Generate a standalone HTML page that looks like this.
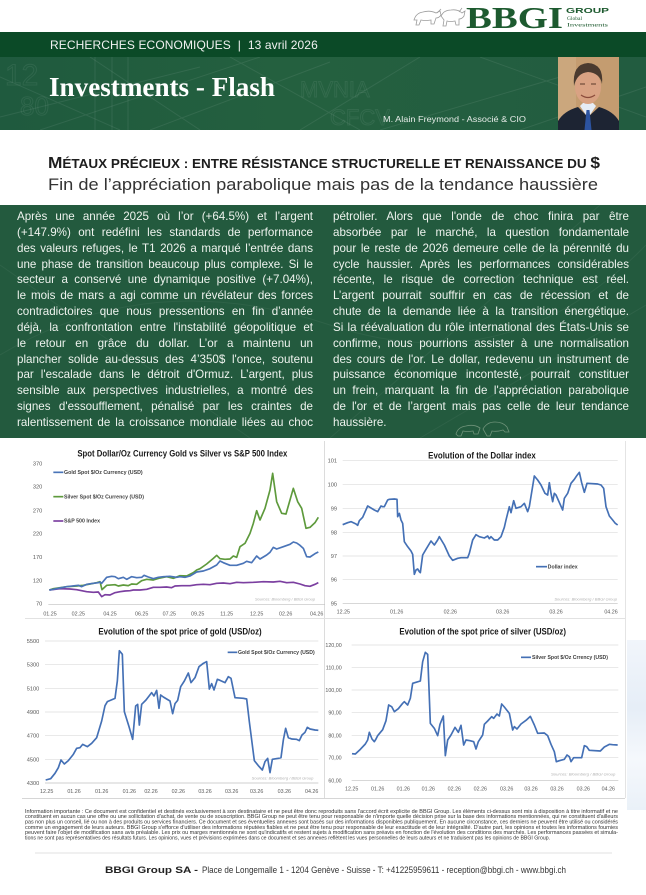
<!DOCTYPE html>
<html><head><meta charset="utf-8">
<style>
html,body{margin:0;padding:0;}
body{width:646px;height:895px;position:relative;overflow:hidden;background:#fff;font-family:"Liberation Sans",Arial,sans-serif;}
.abs{position:absolute;}
.col{position:absolute;top:209px;width:296px;font-size:11.6px;line-height:15.85px;color:#eef3ee;font-family:"Liberation Sans",Arial,sans-serif;}
.col div{height:15.85px;text-align:justify;text-align-last:justify;overflow:hidden;}
.col div.l{text-align-last:left;}
svg text{font-family:"Liberation Sans",Arial,sans-serif;}
</style></head><body>

<!-- Logo -->
<svg class="abs" style="left:0;top:0" width="646" height="32" viewBox="0 0 646 32">
  <g fill="none" stroke="#9c9c9c" stroke-width="0.8">
    <path d="M414,20 Q416,13 423,12 Q430,10 436,13 L440,11 L441,15 Q439,18 436,18 L434,24 L431,24 L431,20 Q425,21 421,20 L419,25 L416,25 L417,20 Z"/>
    <path d="M441,16 Q444,10 451,10 Q458,9 462,13 L465,11 L464,16 Q462,19 459,19 L459,25 L456,25 L455,21 Q450,22 447,21 L446,26 L443,26 L444,20 Z"/>
    <path d="M437,13 L441,9 M459,12 L462,8"/>
  </g>
  <text x="466" y="28" font-weight="bold" font-size="31" fill="#1d5a2f" textLength="97" lengthAdjust="spacingAndGlyphs" style="font-family:'Liberation Serif',serif">BBGI</text>
  <text x="566" y="13" font-weight="bold" font-size="7.5" fill="#1d5a2f" textLength="43" lengthAdjust="spacingAndGlyphs">GROUP</text>
  <text x="567" y="20" font-size="5.5" fill="#1d5a2f" style="font-family:'Liberation Serif',serif">Global</text>
  <text x="567" y="26.5" font-size="5.5" fill="#1d5a2f" textLength="41" lengthAdjust="spacingAndGlyphs" style="font-family:'Liberation Serif',serif">Investments</text>
</svg>

<!-- Header band -->
<div class="abs" style="left:0;top:32px;width:646px;height:25px;background:#0b4a27;"></div>
<div class="abs" style="left:0;top:57px;width:646px;height:73px;background:linear-gradient(90deg,#1f5a3e 0%,#24603f 45%,#225c40 100%);"></div>
<svg class="abs" style="left:0;top:57px" width="646" height="73" viewBox="0 0 646 73">
  <g stroke="#ffffff" stroke-opacity="0.08" stroke-width="1" fill="none">
    <path d="M0,60 L200,10 M40,73 L260,0 M150,73 L330,5 M300,73 L420,0 M380,73 L560,20 M0,20 L120,73 M90,0 L200,73 M230,0 L360,73 M480,0 L646,60 M520,73 L646,30"/>
    <path d="M95,0 L95,73 M112,0 L112,73 M128,0 L128,73"/>
  </g>
  <g fill="none" stroke="#ffffff" stroke-opacity="0.07" stroke-width="1" font-size="30" style="font-family:'Liberation Serif',serif">
    <text x="5" y="28">12</text><text x="20" y="58" font-size="26">80</text>
    <text x="300" y="40" font-size="22">MVNIA</text><text x="330" y="68" font-size="22">CFCV</text>
  </g>
</svg>
<div class="abs" style="left:50px;top:38px;font-size:12px;color:#f2f2f2;letter-spacing:0.1px;white-space:nowrap;">RECHERCHES ECONOMIQUES &nbsp;|&nbsp; 13 avril 2026</div>
<svg class="abs" style="left:0;top:57px" width="560" height="73" viewBox="0 0 560 73">
  <text x="49" y="39" font-weight="bold" font-size="27" fill="#ffffff" textLength="226" lengthAdjust="spacingAndGlyphs" style="font-family:'Liberation Serif',serif">Investments - Flash</text>
  <text x="383" y="65" font-size="8.3" fill="#e6ece8" textLength="143" lengthAdjust="spacingAndGlyphs">M. Alain Freymond - Associé &amp; CIO</text>
</svg>
<!-- Photo -->
<svg class="abs" style="left:558px;top:57px" width="61" height="73" viewBox="0 0 61 73">
  <rect width="61" height="73" fill="#c49c70"/>
  <rect width="18" height="73" fill="#d2b28a" opacity="0.5"/>
  <rect x="25" y="40" width="10" height="12" fill="#c48a6a"/>
  <path d="M0,73 L0,64 Q6,54 20,50 L30,60 L41,50 Q55,54 61,64 L61,73 Z" fill="#1d2433"/>
  <path d="M22,49 L30,61 L38,49 L35,46 L25,46 Z" fill="#e6edf6"/>
  <path d="M28.5,53 L31.5,53 L33.5,73 L26.5,73 Z" fill="#2c53a0"/>
  <ellipse cx="30" cy="30" rx="13" ry="17" fill="#d9a283"/>
  <path d="M16,29 Q14,7 30,6 Q46,7 44,27 Q42,16 30,15 Q19,16 16,29 Z" fill="#4a3a2f"/>
  <path d="M23,38 Q30,43 37,38" stroke="#8b4b3b" stroke-width="1.2" fill="none"/>
  <path d="M22,27 L27,27 M33,27 L38,27" stroke="#5a3a2a" stroke-width="1"/>
</svg>

<!-- Title -->
<svg class="abs" style="left:0;top:140px" width="646" height="65" viewBox="0 140 646 65">
  <text x="48" y="168" font-weight="bold" fill="#1e1e1e" textLength="552" lengthAdjust="spacingAndGlyphs"><tspan font-size="16">M</tspan><tspan font-size="12.5">ÉTAUX PRÉCIEUX : ENTRE RÉSISTANCE STRUCTURELLE ET RENAISSANCE DU </tspan><tspan font-size="16">$</tspan></text>
  <text x="48" y="190" font-size="17" fill="#333333" textLength="550" lengthAdjust="spacingAndGlyphs">Fin de l’appréciation parabolique mais pas de la tendance haussière</text>
</svg>

<!-- Text block -->
<div class="abs" style="left:0;top:205px;width:646px;height:233px;background:#235a3e;"></div>
<svg class="abs" style="left:0;top:205px" width="646" height="233" viewBox="0 0 646 233">
  <g stroke="#ffffff" stroke-opacity="0.05" fill="none" stroke-width="1">
    <path d="M0,150 Q150,60 330,120 T646,40 M0,60 L250,233 M330,233 L600,0 M420,233 L646,100"/>
  </g>
  <g fill="none" stroke="#c9d8c0" stroke-opacity="0.45" stroke-width="0.8">
    <path d="M456,229 Q458,222 466,221 Q474,219 480,223 L478,229 L474,229 L473,226 Q467,227 463,226 L461,231 L458,231 Z"/>
    <path d="M483,224 Q487,217 495,217 Q503,217 507,222 L509,227 L505,227 L503,225 Q497,227 492,226 L490,231 L487,231 Z"/>
  </g>
</svg>
<div class="col" style="left:17px;">
<div>Après une année 2025 où l’or (+64.5%) et l’argent</div>
<div>(+147.9%) ont redéfini les standards de performance</div>
<div>des valeurs refuges, le T1 2026 a marqué l’entrée dans</div>
<div>une phase de transition beaucoup plus complexe. Si le</div>
<div>secteur a conservé une dynamique positive (+7.04%),</div>
<div>le mois de mars a agi comme un révélateur des forces</div>
<div>contradictoires que nous pressentions en fin d’année</div>
<div>déjà, la confrontation entre l'instabilité géopolitique et</div>
<div>le retour en grâce du dollar. L’or a maintenu un</div>
<div>plancher solide au-dessus des 4’350$ l'once, soutenu</div>
<div>par l'escalade dans le détroit d'Ormuz. L’argent, plus</div>
<div>sensible aux perspectives industrielles, a montré des</div>
<div>signes d'essoufflement, pénalisé par les craintes de</div>
<div>ralentissement de la croissance mondiale liées au choc</div>
</div>
<div class="col" style="left:333px;">
<div>pétrolier. Alors que l'onde de choc finira par être</div>
<div>absorbée par le marché, la question fondamentale</div>
<div>pour le reste de 2026 demeure celle de la pérennité du</div>
<div>cycle haussier. Après les performances considérables</div>
<div>récente, le risque de correction technique est réel.</div>
<div>L’argent pourrait souffrir en cas de récession et de</div>
<div>chute de la demande liée à la transition énergétique.</div>
<div>Si la réévaluation du rôle international des États-Unis se</div>
<div>confirme, nous pourrions assister à une normalisation</div>
<div>des cours de l'or. Le dollar, redevenu un instrument de</div>
<div>puissance économique incontesté, pourrait constituer</div>
<div>un frein, marquant la fin de l'appréciation parabolique</div>
<div>de l'or et de l’argent mais pas celle de leur tendance</div>
<div class="l">haussière.</div>
</div>

<!-- decorative right bg -->
<div class="abs" style="left:627px;top:640px;width:19px;height:170px;background:linear-gradient(180deg,#f1f5fb 0%,#e6eef7 40%,#f5f8fc 70%,#eaf1f8 100%);"></div>

<!-- chart frames -->
<div class="abs" style="left:324px;top:441px;width:1px;height:357px;background:#dcdcdc;"></div>
<div class="abs" style="left:625px;top:441px;width:1px;height:357px;background:#e4e4e4;"></div>
<div class="abs" style="left:25px;top:618px;width:600px;height:1px;background:#e2e2e2;"></div>
<div class="abs" style="left:22px;top:798px;width:603px;height:1px;background:#d6d6d6;"></div>

<!-- Chart 1 -->
<svg class="abs" style="left:0;top:440px" width="325" height="180" viewBox="0 0 975 540">
  <text x="547" y="50" text-anchor="middle" font-size="27" font-weight="bold" fill="#1a1a1a" textLength="630" lengthAdjust="spacingAndGlyphs">Spot Dollar/Oz Currency Gold vs Silver vs S&amp;P 500 Index</text>
  <g font-size="17" fill="#595959" text-anchor="end">
    <text x="127" y="76">370</text><text x="127" y="146">320</text><text x="127" y="217">270</text><text x="127" y="287">220</text><text x="127" y="357">170</text><text x="127" y="427">120</text><text x="127" y="497">70</text>
  </g>
  <line x1="145" y1="493" x2="975" y2="493" stroke="#bfbfbf" stroke-width="2"/>
  <g font-size="16" fill="#595959" text-anchor="middle">
    <text x="150" y="526">01.25</text><text x="235" y="526">02.25</text><text x="330" y="526">04.25</text><text x="425" y="526">06.25</text><text x="508" y="526">07.25</text><text x="593" y="526">09.25</text><text x="680" y="526">11.25</text><text x="770" y="526">12.25</text><text x="857" y="526">02.26</text><text x="950" y="526">04.26</text>
  </g>
  <g stroke-width="5" fill="none" stroke-linejoin="round">
    <line x1="160" y1="97" x2="190" y2="97" stroke="#4a74b8"/>
    <line x1="160" y1="170" x2="190" y2="170" stroke="#5e9a3c"/>
    <line x1="160" y1="243" x2="190" y2="243" stroke="#7b3fa0"/>
  </g>
  <g font-size="15" font-weight="bold" fill="#404040">
    <text x="192" y="102" textLength="236" lengthAdjust="spacingAndGlyphs">Gold Spot $/Oz Currency (USD)</text>
    <text x="192" y="175" textLength="240" lengthAdjust="spacingAndGlyphs">Silver Spot $/Oz Currency (USD)</text>
    <text x="192" y="248" textLength="108" lengthAdjust="spacingAndGlyphs">S&amp;P 500 Index</text>
  </g>
  <text x="765" y="481" font-size="11" font-style="italic" fill="#b0b0b0" textLength="180" lengthAdjust="spacingAndGlyphs">Sources: Bloomberg / BBGI Group</text>
  <g fill="none" stroke-width="5" stroke-linejoin="round">
    <polyline stroke="#7b3fa0" points="148,450 180,446 210,447 230,449 245,452 260,455 280,457 295,456 305,470 315,464 330,465 345,458 360,455 375,453 390,452 400,450 420,450 440,448 460,442 480,442 500,441 515,443 525,438 545,437 570,437 590,434 610,433 630,434 650,430 670,429 690,431 710,427 730,428 760,427 790,425 820,426 840,424 860,428 880,427 900,432 915,437 930,439 945,433 955,428"/>
    <polyline stroke="#5e9a3c" points="148,450 160,446 200,440 230,438 250,436 270,432 290,428 300,425 306,449 320,436 345,434 355,438 370,435 385,437 395,432 410,433 425,422 440,418 460,420 480,414 500,410 520,415 540,407 560,408 580,398 590,390 600,386 620,372 640,355 650,346 660,356 675,358 690,357 700,348 710,352 720,320 735,310 750,280 760,250 770,212 780,240 795,205 810,150 818,100 830,185 845,220 858,222 870,180 880,145 893,185 905,205 918,265 930,262 945,248 955,232"/>
    <polyline stroke="#4a74b8" points="148,450 160,448 180,444 200,440 225,437 235,436 245,440 260,433 280,430 295,428 300,426 305,430 320,412 335,409 345,410 355,416 370,412 380,418 395,410 410,413 425,412 432,406 445,411 460,416 475,412 490,410 510,409 530,412 540,410 555,412 570,408 590,396 610,393 630,386 650,375 660,363 670,368 690,376 710,376 730,370 740,364 755,368 770,348 780,357 800,345 810,337 820,322 830,327 850,320 870,313 880,306 890,309 900,316 910,325 920,350 930,351 945,341 955,336"/>
  </g>
</svg>

<!-- Chart 2 -->
<svg class="abs" style="left:321px;top:440px" width="325" height="180" viewBox="0 0 975 540">
  <text x="483" y="55" text-anchor="middle" font-size="27" font-weight="bold" fill="#1a1a1a" textLength="323" lengthAdjust="spacingAndGlyphs">Evolution of the Dollar index</text>
  <g stroke="#dcdcdc" stroke-width="2">
    <line x1="65" y1="62" x2="890" y2="62"/><line x1="65" y1="133" x2="890" y2="133"/><line x1="65" y1="205" x2="890" y2="205"/><line x1="65" y1="277" x2="890" y2="277"/><line x1="65" y1="348" x2="890" y2="348"/><line x1="65" y1="419" x2="890" y2="419"/>
  </g>
  <line x1="65" y1="491" x2="890" y2="491" stroke="#bfbfbf" stroke-width="2"/>
  <g font-size="17" fill="#595959" text-anchor="end">
    <text x="48" y="68">101</text><text x="48" y="139">100</text><text x="48" y="211">99</text><text x="48" y="283">98</text><text x="48" y="354">97</text><text x="48" y="425">96</text><text x="48" y="497">95</text>
  </g>
  <g font-size="16" fill="#595959" text-anchor="middle">
    <text x="67" y="521">12.25</text><text x="227" y="521">01.26</text><text x="388" y="521">02.26</text><text x="545" y="521">03.26</text><text x="705" y="521">03.26</text><text x="870" y="521">04.26</text>
  </g>
  <line x1="645" y1="380" x2="678" y2="380" stroke="#4470b5" stroke-width="5"/>
  <text x="680" y="386" font-size="15" font-weight="bold" fill="#404040" textLength="90" lengthAdjust="spacingAndGlyphs">Dollar index</text>
  <text x="700" y="481" font-size="11" font-style="italic" fill="#b0b0b0" textLength="188" lengthAdjust="spacingAndGlyphs">Sources: Bloomberg / BBGI Group</text>
  <polyline fill="none" stroke="#4470b5" stroke-width="5" stroke-linejoin="round" points="65,254 80,248 90,245 105,252 110,256 115,242 125,232 140,198 160,210 170,215 180,198 185,200 190,200 200,180 205,178 220,177 228,178 230,230 235,220 240,240 245,250 250,305 260,320 270,333 275,343 280,403 285,390 290,387 295,395 298,398 305,345 315,328 330,303 340,315 350,300 355,290 370,315 385,348 395,361 410,355 420,353 440,353 445,340 455,300 465,284 475,290 490,294 500,288 505,296 510,290 520,300 530,300 540,290 550,262 555,240 565,200 570,218 578,182 585,205 600,200 610,190 620,215 625,200 640,108 650,120 660,135 672,160 680,165 685,128 690,160 695,185 700,160 705,165 725,210 730,175 740,160 750,130 760,118 768,106 775,97 782,128 790,157 798,130 830,132 840,135 848,145 855,200 865,228 875,240 883,250 890,255"/>
</svg>

<!-- Chart 3 -->
<svg class="abs" style="left:0;top:615px" width="325" height="180" viewBox="0 0 975 540">
  <text x="540" y="59" text-anchor="middle" font-size="27" font-weight="bold" fill="#1a1a1a" textLength="490" lengthAdjust="spacingAndGlyphs">Evolution of the spot price of gold (USD/oz)</text>
  <g stroke="#dcdcdc" stroke-width="2">
    <line x1="135" y1="78" x2="955" y2="78"/><line x1="135" y1="149" x2="955" y2="149"/><line x1="135" y1="220" x2="955" y2="220"/><line x1="135" y1="291" x2="955" y2="291"/><line x1="135" y1="362" x2="955" y2="362"/><line x1="135" y1="433" x2="955" y2="433"/>
  </g>
  <line x1="135" y1="504" x2="955" y2="504" stroke="#bfbfbf" stroke-width="2"/>
  <g font-size="17" fill="#595959" text-anchor="end">
    <text x="118" y="84">5500</text><text x="118" y="155">5300</text><text x="118" y="226">5100</text><text x="118" y="297">4900</text><text x="118" y="368">4700</text><text x="118" y="439">4500</text><text x="118" y="510">4300</text>
  </g>
  <g font-size="16" fill="#595959" text-anchor="middle">
    <text x="140" y="534">12.25</text><text x="222" y="534">01.26</text><text x="305" y="534">01.26</text><text x="388" y="534">01.26</text><text x="453" y="534">02.26</text><text x="535" y="534">02.26</text><text x="615" y="534">03.26</text><text x="695" y="534">03.26</text><text x="770" y="534">03.26</text><text x="853" y="534">03.26</text><text x="935" y="534">04.26</text>
  </g>
  <line x1="683" y1="112" x2="712" y2="112" stroke="#4470b5" stroke-width="5"/>
  <text x="714" y="117" font-size="15" font-weight="bold" fill="#404040" textLength="230" lengthAdjust="spacingAndGlyphs">Gold Spot $/Oz Currency (USD)</text>
  <text x="755" y="494" font-size="11" font-style="italic" fill="#b0b0b0" textLength="185" lengthAdjust="spacingAndGlyphs">Sources: Bloomberg / BBGI Group</text>
  <polyline fill="none" stroke="#4470b5" stroke-width="5" stroke-linejoin="round" points="137,495 152,491 165,475 175,458 183,435 193,447 205,437 220,418 230,400 240,398 248,388 262,395 275,385 290,368 305,318 315,272 322,260 345,250 352,198 358,107 367,118 373,290 387,335 398,373 407,273 413,268 418,330 425,268 438,255 455,233 462,243 470,226 477,280 482,240 490,246 510,258 518,296 525,266 533,256 542,215 553,198 565,174 573,203 585,188 597,155 610,145 620,140 628,222 635,206 642,225 652,193 660,196 675,203 685,185 693,190 705,248 730,250 740,252 748,320 763,437 775,452 787,465 795,440 803,430 810,473 817,433 835,430 843,428 850,375 857,340 865,368 875,372 890,373 898,377 906,360 915,352 922,337 930,342 945,345 955,346"/>
</svg>

<!-- Chart 4 -->
<svg class="abs" style="left:321px;top:615px" width="325" height="180" viewBox="0 0 975 540">
  <text x="485" y="58" text-anchor="middle" font-size="27" font-weight="bold" fill="#1a1a1a" textLength="500" lengthAdjust="spacingAndGlyphs">Evolution of the spot price of silver (USD/oz)</text>
  <g stroke="#dcdcdc" stroke-width="2">
    <line x1="92" y1="90" x2="892" y2="90"/><line x1="92" y1="157" x2="892" y2="157"/><line x1="92" y1="225" x2="892" y2="225"/><line x1="92" y1="293" x2="892" y2="293"/><line x1="92" y1="361" x2="892" y2="361"/><line x1="92" y1="428" x2="892" y2="428"/>
  </g>
  <line x1="92" y1="496" x2="892" y2="496" stroke="#bfbfbf" stroke-width="2"/>
  <g font-size="16" fill="#595959" text-anchor="end">
    <text x="62" y="96">120,00</text><text x="62" y="163">110,00</text><text x="62" y="231">100,00</text><text x="62" y="299">90,00</text><text x="62" y="367">80,00</text><text x="62" y="434">70,00</text><text x="62" y="502">60,00</text>
  </g>
  <g font-size="16" fill="#595959" text-anchor="middle">
    <text x="92" y="526">12.25</text><text x="170" y="526">01.26</text><text x="247" y="526">01.26</text><text x="322" y="526">01.26</text><text x="400" y="526">02.26</text><text x="478" y="526">02.26</text><text x="557" y="526">03.26</text><text x="630" y="526">03.26</text><text x="708" y="526">03.26</text><text x="787" y="526">03.26</text><text x="862" y="526">04.26</text>
  </g>
  <line x1="600" y1="127" x2="630" y2="127" stroke="#4470b5" stroke-width="5"/>
  <text x="633" y="132" font-size="15" font-weight="bold" fill="#404040" textLength="228" lengthAdjust="spacingAndGlyphs">Silver Spot $/Oz Crrency (USD)</text>
  <text x="690" y="481" font-size="11" font-style="italic" fill="#b0b0b0" textLength="193" lengthAdjust="spacingAndGlyphs">Sources: Bloomberg / BBGI Group</text>
  <polyline fill="none" stroke="#4470b5" stroke-width="5" stroke-linejoin="round" points="93,416 103,417 118,403 133,387 140,375 145,352 153,372 160,380 165,372 170,362 185,344 195,317 203,270 212,275 220,290 232,281 245,265 250,260 260,270 268,250 275,205 285,202 298,198 305,140 313,112 320,118 328,325 340,340 350,362 357,328 367,303 373,422 380,375 390,360 402,337 412,352 420,331 428,390 435,375 447,377 458,380 465,402 472,380 485,360 490,328 500,318 512,305 518,310 528,297 535,303 542,267 550,276 565,295 575,345 580,335 588,342 600,327 615,316 628,304 640,330 650,355 670,354 680,362 690,388 700,410 706,440 715,437 730,433 738,420 745,425 750,440 758,428 782,428 790,392 797,395 805,406 838,408 850,396 865,388 875,389 890,390"/>
</svg>

<!-- Footer -->
<svg class="abs" style="left:0;top:800px" width="646" height="95" viewBox="0 800 646 95">
  <g font-size="5" fill="#333333">
    <text x="25" y="812.8" textLength="593" lengthAdjust="spacingAndGlyphs">Information importante : Ce document est confidentiel et destinés exclusivement à son destinataire et ne peut être donc reproduits sans l'accord écrit explicite de BBGI Group. Les éléments ci-dessus sont mis à disposition à titre informatif et ne</text>
    <text x="25" y="818.1" textLength="593" lengthAdjust="spacingAndGlyphs">constituent en aucun cas une offre ou une sollicitation d'achat, de vente ou de souscription. BBGI Group ne peut être tenu pour responsable de n'importe quelle décision prise sur la base des informations mentionnées, qui ne constituent d'ailleurs</text>
    <text x="25" y="823.4" textLength="593" lengthAdjust="spacingAndGlyphs">pas non plus un conseil, lié ou non à des produits ou services financiers. Ce document et ses éventuelles annexes sont basés sur des informations disponibles publiquement. En aucune circonstance, ces derniers ne peuvent être utilisé ou considérés</text>
    <text x="25" y="828.8" textLength="593" lengthAdjust="spacingAndGlyphs">comme un engagement de leurs auteurs. BBGI Group s'efforce d'utiliser des informations réputées fiables et ne peut être tenu pour responsable de leur exactitude et de leur intégralité. D'autre part, les opinions et toutes les informations fournies</text>
    <text x="25" y="834.1" textLength="593" lengthAdjust="spacingAndGlyphs">peuvent faire l'objet de modification sans avis préalable. Les prix ou marges mentionnés ne sont qu'indicatifs et restent sujets à modification sans préavis en fonction de l'évolution des conditions des marchés. Les performances passées et simula-</text>
    <text x="25" y="839.4" textLength="525" lengthAdjust="spacingAndGlyphs">tions ne sont pas représentatives des résultats futurs. Les opinions, vues et prévisions exprimées dans ce document et ses annexes reflètent les vues personnelles de leurs auteurs et ne traduisent pas les opinions de BBGI Group.</text>
  </g>
  <line x1="35" y1="853" x2="612" y2="853" stroke="#e2e2e2" stroke-width="1"/>
  <text x="105" y="873" font-size="9.5" font-weight="bold" fill="#222222" textLength="93" lengthAdjust="spacingAndGlyphs">BBGI Group SA -</text>
  <text x="202" y="873" font-size="9.5" fill="#333333" textLength="364" lengthAdjust="spacingAndGlyphs">Place de Longemalle 1 - 1204 Genève - Suisse - T: +41225959611 - reception@bbgi.ch - www.bbgi.ch</text>
</svg>

</body></html>
